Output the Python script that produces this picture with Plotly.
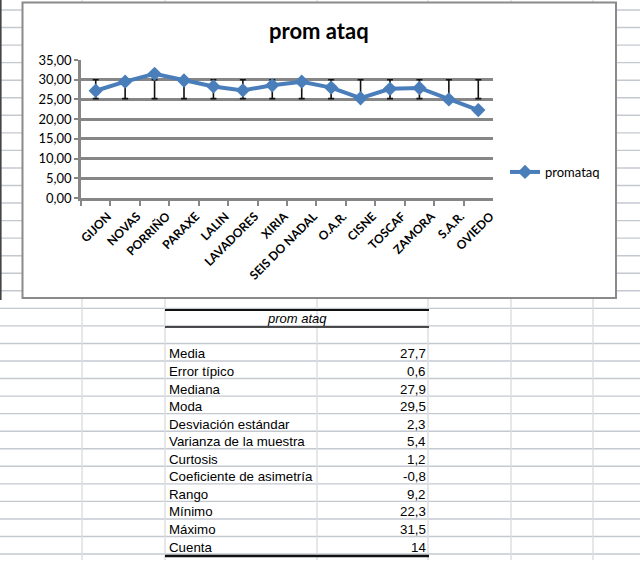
import plotly.graph_objects as go

# ---------------- data ----------------
categories = ["GIJON", "NOVAS", "PORRIÑO", "PARAXE", "LALIN", "LAVADORES", "XIRIA",
              "SEIS DO NADAL", "O.A.R.", "CISNE", "TOSCAF", "ZAMORA", "S.A.R.", "OVIEDO"]
promataq = [27.2, 29.5, 31.5, 29.8, 28.3, 27.3, 28.6, 29.5, 28.0, 25.3, 27.7, 27.9, 25.0, 22.3]
err_low = [25.2] * 14
err_high = [30.0] * 14
y_ticks = [0, 5, 10, 15, 20, 25, 30, 35]

stat_labels = ["Media", "Error típico", "Mediana", "Moda", "Desviación estándar",
               "Varianza de la muestra", "Curtosis", "Coeficiente de asimetría",
               "Rango", "Mínimo", "Máximo", "Cuenta"]
stat_values = [27.7, 0.6, 27.9, 29.5, 2.3, 5.4, 1.2, -0.8, 9.2, 22.3, 31.5, 14]
table_title = "prom ataq"

# ---------------- helpers ----------------
W, H = 640, 568
def px(x):
    return x / W
def py(y):
    return 1 - y / H

BLUE = "#4a7ebb"
GRID = "#868686"

fig = go.Figure()

# error bars (fixed band as in the original)
fig.add_trace(go.Scatter(
    x=categories, y=err_high, mode="markers",
    marker=dict(size=1, color="rgba(0,0,0,0)"),
    error_y=dict(type="data", symmetric=False,
                 array=[0] * len(categories),
                 arrayminus=[h - l for h, l in zip(err_high, err_low)],
                 color="#111111", thickness=1.6, width=3),
    showlegend=False, hoverinfo="skip"))

fig.add_trace(go.Scatter(
    x=categories, y=promataq, mode="lines+markers", name="promataq",
    line=dict(color=BLUE, width=4),
    marker=dict(symbol="diamond", size=11, color=BLUE)))

shapes = []
# spreadsheet horizontal gridlines
y0 = 10.0
k = 0
while y0 + 17.55 * k < 560:
    yy = y0 + 17.55 * k
    shapes.append(dict(type="line", xref="paper", yref="paper", layer="below",
                       x0=0, x1=1, y0=py(yy), y1=py(yy),
                       line=dict(color="#c4c8d0", width=1.4)))
    k += 1
# spreadsheet vertical gridlines
for xx in [82, 165, 317, 428, 511, 593]:
    shapes.append(dict(type="line", xref="paper", yref="paper", layer="below",
                       x0=px(xx), x1=px(xx), y0=py(0), y1=py(560),
                       line=dict(color="#dadde2", width=1.4)))
# left dark column edge
shapes.append(dict(type="line", xref="paper", yref="paper", layer="below",
                   x0=px(0.8), x1=px(0.8), y0=py(0), y1=py(300),
                   line=dict(color="#444444", width=1.6)))
# chart frame
shapes.append(dict(type="rect", xref="paper", yref="paper", layer="below",
                   x0=px(22.5), x1=px(616), y0=py(2.5), y1=py(298),
                   fillcolor="white", line=dict(color="#8a8a8a", width=2)))
# table borders
shapes.append(dict(type="line", xref="paper", yref="paper",
                   x0=px(165), x1=px(429), y0=py(310), y1=py(310),
                   line=dict(color="#111111", width=2.2)))
shapes.append(dict(type="line", xref="paper", yref="paper",
                   x0=px(165), x1=px(429), y0=py(327), y1=py(327),
                   line=dict(color="#111111", width=1.5)))
shapes.append(dict(type="line", xref="paper", yref="paper",
                   x0=px(165), x1=px(429), y0=py(556), y1=py(556),
                   line=dict(color="#111111", width=2.6)))

annotations = []
annotations.append(dict(text="<b>prom ataq</b>", xref="paper", yref="paper",
                        x=px(319), y=py(30), xanchor="center", yanchor="middle",
                        showarrow=False,
                        font=dict(family="Lato", size=22, color="#000000")))
annotations.append(dict(text="<i>" + table_title + "</i>", xref="paper", yref="paper",
                        x=px(297), y=py(318.5), xanchor="center", yanchor="middle",
                        showarrow=False,
                        font=dict(family="Liberation Sans", size=13, color="#000000")))

def fmt(v):
    if isinstance(v, int):
        return str(v)
    return f"{v:.1f}".replace(".", ",")

for i, (lab, val) in enumerate(zip(stat_labels, stat_values)):
    yc = 345 + 17.55 * i + 9
    annotations.append(dict(text=lab, xref="paper", yref="paper",
                            x=px(167), y=py(yc), xanchor="left", yanchor="middle",
                            showarrow=False,
                            font=dict(family="Liberation Sans", size=13.3, color="#000000")))
    annotations.append(dict(text=fmt(val), xref="paper", yref="paper",
                            x=px(428), y=py(yc), xanchor="right", yanchor="middle",
                            showarrow=False,
                            font=dict(family="Liberation Sans", size=13.3, color="#000000")))

fig.update_layout(
    template="none",
    width=W, height=H, autosize=False,
    margin=dict(l=0, r=0, t=0, b=0, pad=0, autoexpand=False),
    paper_bgcolor="white", plot_bgcolor="rgba(0,0,0,0)",
    separators=",.",
    shapes=shapes, annotations=annotations,
    showlegend=True,
    legend=dict(x=px(505), y=py(172), xanchor="left", yanchor="middle",
                bgcolor="rgba(0,0,0,0)", borderwidth=0,
                font=dict(family="Lato", size=13, color="#000000")),
    xaxis=dict(domain=[px(81), px(493)], type="category",
               range=[-0.5, len(categories) - 0.5], automargin=False,
               showgrid=False, showline=True, linecolor=GRID, linewidth=2.5,
               ticks="outside", tickson="boundaries", ticklen=5, tickwidth=2,
               tickcolor=GRID, tickangle=-45,
               ticklabelstandoff=4, ticklabelshift=12,
               tickfont=dict(family="Lato", size=12, color="#000000", weight="bold")),
    yaxis=dict(domain=[py(198), py(60)], range=[0, 35], automargin=False,
               tickvals=y_ticks, tickformat=".2f",
               showgrid=True, gridcolor=GRID, gridwidth=2.5,
               zeroline=False, showline=True, linecolor=GRID, linewidth=2.5,
               ticks="outside", ticklen=4, tickwidth=2, tickcolor=GRID,
               tickfont=dict(family="Lato", size=13, color="#000000")),
)

fig.write_html("out.html",
               post_script="document.body.style.margin='0';document.body.style.padding='0';")
